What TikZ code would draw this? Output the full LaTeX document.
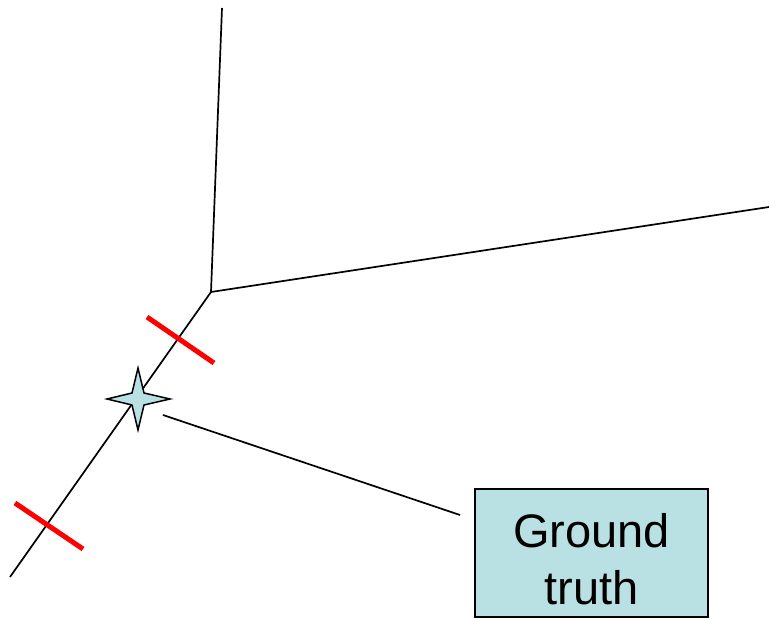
\documentclass[tikz,border=0pt]{standalone}
\usepackage{fontspec}
\setmainfont{Liberation Sans}
\usetikzlibrary{calc}
\definecolor{gtfill}{RGB}{185,224,227}
\definecolor{tickred}{RGB}{255,0,0}
\begin{document}
\begin{tikzpicture}[x=1pt,y=-1pt,
  edge/.style={draw=black,line width=1.7pt},
  tick/.style={draw=tickred,line width=5pt},
  gtbox/.style={draw=black,fill=gtfill,line width=1.4pt,minimum width=233pt,minimum height=128pt,inner sep=0pt},
  gttext/.style={align=center,inner sep=0pt,font=\fontsize{47}{57}\selectfont}]
\useasboundingbox (0,0) rectangle (769,620);
\coordinate (top) at (222,8);
\coordinate (j) at (211,292);
\coordinate (right) at (769,207);
\coordinate (bot) at (10,577);
\draw[edge] (top) -- (j);
\draw[edge] (j) -- (right);
\draw[edge] (j) -- (bot);
\coordinate (t1a) at (147,317);
\coordinate (t1b) at (214,363);
\coordinate (t2a) at (15,503);
\coordinate (t2b) at (83,549);
\draw[tick] (t1a) -- (t1b);
\draw[tick] (t2a) -- (t2b);
\coordinate (s) at (138,399);
\draw[line width=1.5pt,fill=gtfill,line join=miter]
  ($(s)+(0,-31)$) -- ($(s)+(6,-6)$) -- ($(s)+(32,0)$) -- ($(s)+(6,6)$) --
  ($(s)+(0,31)$) -- ($(s)+(-6,6)$) -- ($(s)+(-31,0)$) -- ($(s)+(-6,-6)$) -- cycle;
\node[gtbox] (gt) at (591.5,553) {};
\node[gttext] (gtlabel) at ($(gt.center)+(0,6)$) {Ground\\truth};
\coordinate (la) at (163,415);
\coordinate (lb) at (460,515);
\draw[edge] (la) -- (lb);
\end{tikzpicture}
\end{document}
